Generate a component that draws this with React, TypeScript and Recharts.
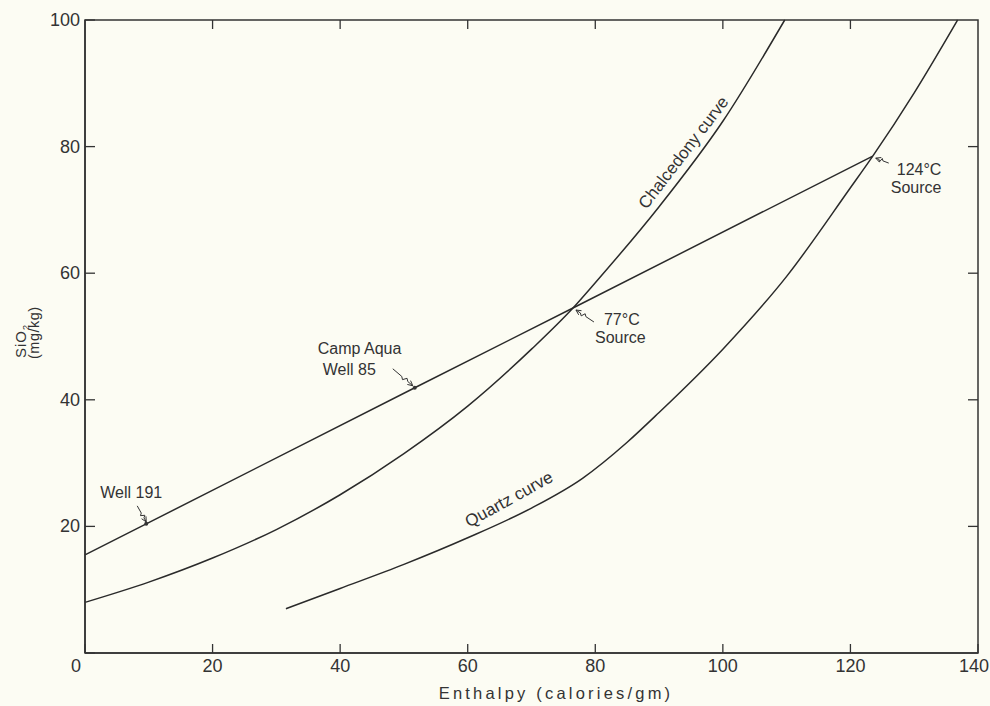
import { LineChart, Line, XAxis, YAxis, ReferenceDot, ReferenceArea } from 'recharts';

// values (enthalpy cal/gm vs SiO2 mg/kg)
const chalcedonyX = [0, 10, 20, 30, 40, 50, 60, 70, 76.5, 80, 90, 100, 109.7];
const chalcedonyY = [8, 11.2, 15, 19.5, 25, 31.5, 39, 48, 54.5, 58.5, 70.5, 84, 100];

const quartzX = [31.5, 40, 50, 60, 70, 78, 85, 90, 100, 110, 120, 123.5, 130, 136.8];
const quartzY = [7, 10.2, 14, 18.2, 22.9, 27.6, 33.3, 38, 48, 59.5, 73.5, 78.5, 88.5, 100];

// mixing line: Well 191, Camp Aqua Well 85, 77°C source, 124°C source
const mixingX = [0, 9.6, 51.7, 76.5, 123.5];
const mixingY = [15.5, 20.4, 41.9, 54.5, 78.5];

const xTicks = [0, 20, 40, 60, 80, 100, 120, 140];
const yTicks = [0, 20, 40, 60, 80, 100];

const toRows = (xs: number[], ys: number[]) => xs.map((x, i) => ({ x, y: ys[i] }));
const chalcedony = toRows(chalcedonyX, chalcedonyY);
const quartz = toRows(quartzX, quartzY);
const mixing = toRows(mixingX, mixingY);

const INK = '#333';
const FONT = '"Liberation Sans", Arial, Helvetica, sans-serif';

function Arrow({ x1, y1, x2, y2 }: { x1: number; y1: number; x2: number; y2: number }) {
  const dx = x2 - x1;
  const dy = y2 - y1;
  const L = Math.hypot(dx, dy);
  const ux = dx / L;
  const uy = dy / L;
  const nx = -uy;
  const ny = ux;
  const at = (t: number, o: number) => `${x1 + ux * L * t + nx * o},${y1 + uy * L * t + ny * o}`;
  const hx = x2 - ux * 5;
  const hy = y2 - uy * 5;
  return (
    <g stroke={INK} strokeWidth={1} fill="none">
      <polyline points={[at(0, 0), at(0.45, 0), at(0.55, 2), at(0.65, -2), at(0.75, 0), at(1, 0)].join(' ')} />
      <polyline points={`${hx + nx * 2.5},${hy + ny * 2.5} ${x2},${y2} ${hx - nx * 2.5},${hy - ny * 2.5}`} />
    </g>
  );
}

type TextLine = { t: string; dx: number; dy: number };

const makeNote = (lines: TextLine[], arrow: number[], dot: boolean) => (p: any) => {
  const { cx, cy } = p;
  return (
    <g>
      {dot && <circle cx={cx} cy={cy} r={2} fill={INK} />}
      <Arrow x1={cx + arrow[0]} y1={cy + arrow[1]} x2={cx + arrow[2]} y2={cy + arrow[3]} />
      {lines.map((l) => (
        <text key={l.t} x={cx + l.dx} y={cy + l.dy} fontSize={16} fill={INK} fontFamily={FONT}>
          {l.t}
        </text>
      ))}
    </g>
  );
};

const noteWell191 = makeNote([{ t: 'Well 191', dx: -46, dy: -26 }], [-9, -18, 0, -2], true);
const noteCampAqua = makeNote(
  [
    { t: 'Camp  Aqua', dx: -97, dy: -34 },
    { t: 'Well 85', dx: -92, dy: -13 },
  ],
  [-22, -19, -2, -2],
  true
);
const note77 = makeNote(
  [
    { t: '77°C', dx: 31, dy: 17 },
    { t: 'Source', dx: 22, dy: 35 },
  ],
  [21, 14, 3, 2],
  false
);
const note124 = makeNote(
  [
    { t: '124°C', dx: 24, dy: 19 },
    { t: 'Source', dx: 18, dy: 37 },
  ],
  [16, 7, 3, 2],
  false
);

const curveLabel = (text: string, angle: number) => (p: any) => (
  <g transform={`translate(${p.cx},${p.cy}) rotate(${angle})`}>
    <text x={0} y={5} textAnchor="middle" fontSize={17} fill={INK} fontFamily={FONT}>
      {text}
    </text>
  </g>
);

// inward tick marks on the top and right frame edges
const topTick = (p: any) => <line x1={p.cx} y1={p.cy} x2={p.cx} y2={p.cy + 9} stroke={INK} strokeWidth={1.3} />;
const rightTick = (p: any) => <line x1={p.cx} y1={p.cy} x2={p.cx - 10} y2={p.cy} stroke={INK} strokeWidth={1.3} />;

const XTick = (p: any) => {
  const { x, y, payload } = p;
  const v = payload.value;
  const shift = v === 0 ? -9 : v === 140 ? -4 : 0;
  return (
    <g>
      <line x1={x} y1={y} x2={x} y2={y - 9} stroke={INK} strokeWidth={1.3} />
      <text x={x + shift} y={y + 19} textAnchor="middle" fontSize={18} fill={INK} fontFamily={FONT}>
        {v}
      </text>
    </g>
  );
};

const YTick = (p: any) => {
  const { x, y, payload } = p;
  const v = payload.value;
  return (
    <g>
      <line x1={x} y1={y} x2={x + 10} y2={y} stroke={INK} strokeWidth={1.3} />
      {v !== 0 && (
        <text x={x - 5} y={y + 6} textAnchor="end" fontSize={18} fill={INK} fontFamily={FONT}>
          {v}
        </text>
      )}
    </g>
  );
};

export default function App() {
  return (
    <div style={{ position: 'absolute', left: 0, top: 0, width: 990, height: 706, background: '#fcfcf3' }}>
      <LineChart width={990} height={706} margin={{ top: 20, right: 12, bottom: 0, left: 0 }}>
        <XAxis
          type="number"
          dataKey="x"
          domain={[0, 140]}
          ticks={xTicks}
          height={53}
          tickSize={0}
          tickMargin={0}
          tickLine={false}
          tick={XTick}
          stroke={INK}
          strokeWidth={1.5}
          interval={0}
        />
        <YAxis
          type="number"
          domain={[0, 100]}
          ticks={yTicks}
          width={85}
          tickSize={0}
          tickMargin={0}
          tickLine={false}
          tick={YTick}
          stroke={INK}
          strokeWidth={1.5}
          interval={0}
        />
        <ReferenceArea x1={0} x2={140} y1={0} y2={100} fill="none" stroke={INK} strokeWidth={1.5} />
        {xTicks.slice(1, -1).map((v) => (
          <ReferenceDot key={`t${v}`} x={v} y={100} shape={topTick} />
        ))}
        {yTicks.slice(1, -1).map((v) => (
          <ReferenceDot key={`r${v}`} x={140} y={v} shape={rightTick} />
        ))}
        <Line data={chalcedony} dataKey="y" type="monotone" stroke="#2a2a2a" strokeWidth={1.5} dot={false} isAnimationActive={false} />
        <Line data={quartz} dataKey="y" type="monotone" stroke="#2a2a2a" strokeWidth={1.5} dot={false} isAnimationActive={false} />
        <Line data={mixing} dataKey="y" type="linear" stroke="#2a2a2a" strokeWidth={1.5} dot={false} isAnimationActive={false} />
        <ReferenceDot x={mixingX[1]} y={mixingY[1]} shape={noteWell191} />
        <ReferenceDot x={mixingX[2]} y={mixingY[2]} shape={noteCampAqua} />
        <ReferenceDot x={mixingX[3]} y={mixingY[3]} shape={note77} />
        <ReferenceDot x={mixingX[4]} y={mixingY[4]} shape={note124} />
        <ReferenceDot x={93.9} y={79} shape={curveLabel('Chalcedony curve', -52.5)} />
        <ReferenceDot x={66.5} y={24.2} shape={curveLabel('Quartz curve', -29)} />
      </LineChart>
      <svg width={990} height={706} style={{ position: 'absolute', left: 0, top: 0, pointerEvents: 'none' }}>
        <text x={556} y={699} textAnchor="middle" fontSize={16.5} letterSpacing={3.2} fill={INK} fontFamily={FONT}>
          Enthalpy (calories/gm)
        </text>
        <g transform="translate(26,358) rotate(-90)">
          <text x={0} y={0} fontSize={15} fill={INK} fontFamily={FONT} letterSpacing={1}>
            SiO<tspan dy={3} fontSize={9}>2</tspan>
          </text>
        </g>
        <g transform="translate(39,359) rotate(-90)">
          <text x={0} y={0} fontSize={14.5} fill={INK} fontFamily={FONT} letterSpacing={0.5}>
            (mg/kg)
          </text>
        </g>
      </svg>
    </div>
  );
}
